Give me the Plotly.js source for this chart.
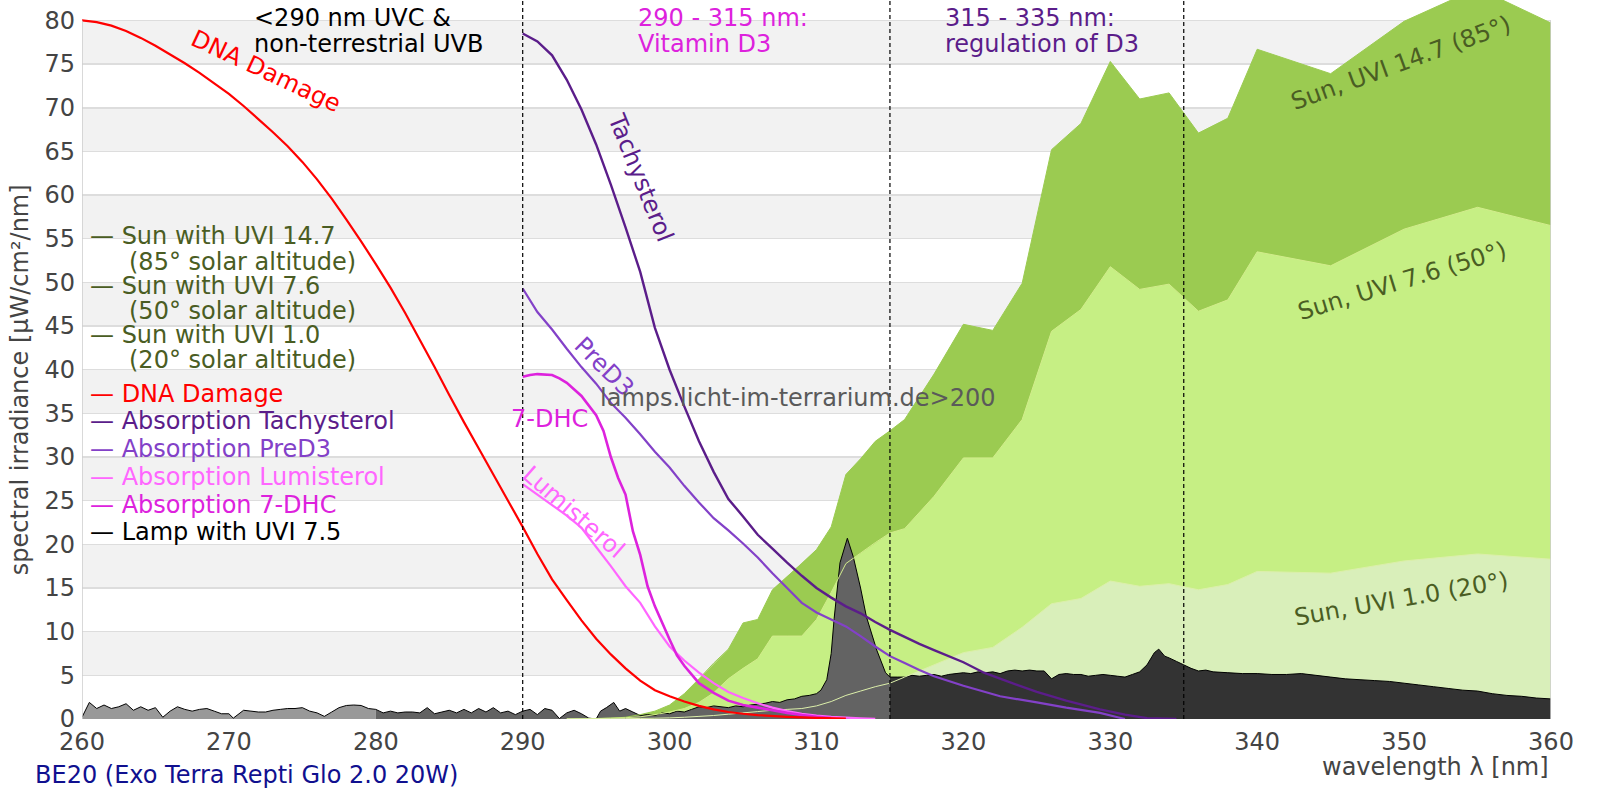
<!DOCTYPE html>
<html><head><meta charset="utf-8">
<script src="https://cdn.plot.ly/plotly-3.0.1.min.js"></script>
<style>html,body{margin:0;padding:0;background:#fff}</style>
</head><body><div id="chart" style="width:1600px;height:800px"></div>
<script>
// ---------- data ----------
const xTicks = [260,270,280,290,300,310,320,330,340,350,360];
const yTicks = [0,5,10,15,20,25,30,35,40,45,50,55,60,65,70,75,80];

const dnaX = [260,261,262,263,264,265,266,267,268,269,270,271,272,273,274,275,276,277,278,279,280,281,282,283,284,285,286,287,288,289,290,291,292,293,294,295,296,297,298,299,300,301,302,303,304,305,306,308,310,312];
const dnaY = [80,79.8,79.4,78.8,78.0,77.1,76.1,75.1,74.0,72.8,71.6,70.2,68.7,67.2,65.6,63.8,61.8,59.6,57.2,54.7,52.1,49.4,46.5,43.4,40.3,37.1,34.0,31.0,28.0,25.0,22.0,18.9,16.0,13.6,11.3,9.2,7.4,5.8,4.4,3.3,2.6,2.0,1.5,1.1,0.8,0.6,0.45,0.25,0.12,0.05];

const tachyX = [290,291,292,293,294,295,296,297,298,299,300,301,302,303,304,305,306,307,308,309,310,311,312,313,314,315,316,317,318,320,321.4,323,325,327,329.3,331,332.5,334.5];
const tachyY = [78.5,77.6,76.0,73.2,69.8,65.8,61.2,56.3,51.2,44.8,40.0,35.8,31.8,28.3,25.2,23.2,21.1,19.5,17.9,16.4,15.0,13.9,12.9,12.1,11.1,10.2,9.4,8.6,7.9,6.5,5.3,4.3,3.1,2.1,1.1,0.5,0.1,0];

const preX = [290,291,292,293,294,295,296,297,298,299,300,301,302,303,304,305,306,307,308,309,310,311,312,313,314,315,316,317,318,320,322.5,325,327,329.3,330.5,331];
const preY = [49.3,46.6,44.6,42.4,40.3,38.4,36.2,34.5,32.6,30.6,28.8,26.7,24.8,23.0,21.6,20.1,18.5,16.7,15.0,13.3,12.2,11.4,10.6,9.5,8.3,7.2,6.4,5.6,4.9,3.8,2.6,1.9,1.3,0.7,0.2,0];

const lumiX = [290,291,292,293,294,295,296,297,298,299,300,301,302,303,304,305,306,307,308,309,310,311,312,313,314];
const lumiY = [26.9,25.7,24.5,23.3,21.9,19.7,17.5,15.2,13.3,10.6,8.3,6.7,5.3,4.1,3.1,2.4,1.8,1.3,0.9,0.6,0.4,0.25,0.15,0.08,0.03];

const dhcX = [290,290.5,291,292,292.5,293,294,295,295.5,296,296.5,297,297.5,298,298.5,299,300,300.5,301,302,303,304,305,306,307,308,309,310,311];
const dhcY = [39.2,39.4,39.5,39.4,39.0,38.5,37.0,34.8,33.0,30.0,27.6,25.7,21.5,18.8,15.2,12.9,9.1,7.3,6.1,4.1,3.0,2.1,1.6,1.3,1.0,0.7,0.45,0.25,0.1];

const sunX   = [293,295,296,297,298,299,300,301,302,303,304,305,306,307,308,309,310,311,312,313,314,315,316,318,320,322,324,326,328,330,332,334,336,338,340,345,350,355,360];
const sun147 = [0,0.05,0.1,0.2,0.5,0.9,1.6,2.9,4.6,6.4,8.0,11.0,11.4,14.8,16.3,17.8,19.4,22,28,29.8,31.8,33.0,34.3,39.5,45.2,44.5,49.9,65.2,68.2,75.3,71.0,71.7,67.1,68.8,76.7,73.9,79.9,83.7,79.7];
const sun76  = [0,0.05,0.1,0.15,0.25,0.5,0.8,1.2,1.9,3.0,4.6,5.8,6.9,9.5,9.5,9.5,11.4,14.5,17.8,19.0,20.2,21.3,21.8,25.5,29.9,29.9,34.3,44.4,46.9,51.8,49.2,49.8,46.7,48.0,53.5,51.9,56.1,58.6,56.5];
const sun10  = [0,0,0.02,0.04,0.06,0.09,0.13,0.2,0.3,0.4,0.55,0.7,0.85,1.0,1.1,1.2,1.5,2.0,2.7,3.2,3.7,4.1,4.8,6.2,7.6,8.2,10.5,13.2,13.8,15.8,15.2,15.5,14.8,15.4,16.9,16.7,18.1,18.9,18.3];

const lampX = [260,260.5,261,261.5,262,262.5,263,263.5,264,264.5,265,265.5,266,266.5,267,267.5,268,268.5,269,269.5,270,270.3,271,271.5,272,272.5,273,273.5,274,274.5,275,275.5,276,276.5,277,277.5,278,278.5,279,279.5,
280,280.5,281,281.5,282,282.5,283,283.5,284,284.5,285,285.5,286,286.5,287,287.5,288,288.5,289,289.5,290,290.5,291,291.5,292,292.5,293,293.5,294,294.5,295,295.3,295.7,296.2,296.6,297,297.5,298,298.5,299,299.5,
300,300.5,301,301.5,302,302.5,303,303.5,304,304.5,305,305.5,306,306.5,307,307.5,308,308.5,309,309.5,310,310.3,310.7,311,311.2,311.6,312.1,312.5,313,313.4,314.1,314.7,315,
315.5,316,316.5,317,317.5,318,318.5,319,319.5,320,320.5,321,321.5,322,322.5,323,323.5,324,324.5,325,325.5,326,326.5,327,327.5,328,328.5,329,329.5,330,330.5,331,331.5,332,332.5,333,333.3,333.7,334,334.5,335,335.5,336,336.5,337,
338,339,340,341,342,343,344,345,346,347,348,349,350,351,352,353,354,355,356,357,358,359,360];
const lampY = [0.2,1.9,1.2,1.6,1.2,1.4,1.75,1.0,1.4,1.0,1.3,0.2,0.9,1.4,1.1,0.9,1.1,1.2,0.9,0.6,0.6,0.1,1.0,0.9,0.8,0.8,1.0,1.1,1.2,1.2,1.3,0.9,0.7,0.3,0.8,1.3,1.55,1.6,1.55,1.2,
1.1,0.7,0.9,0.7,0.8,0.8,0.7,1.3,0.6,0.8,1.0,0.7,1.1,0.7,1.2,0.8,1.3,0.7,0.9,0.5,0.9,1.1,0.5,1.2,1.0,0.05,0.7,1.0,0.6,0.1,0.0,0.9,1.3,1.9,0.9,1.2,0.8,0.4,0.5,0.4,0.7,
0.6,0.9,0.8,1.1,1.4,1.3,1.5,1.4,1.3,1.5,1.4,1.6,1.7,1.8,2.0,1.9,2.2,2.3,2.6,2.7,2.9,3.3,4.5,7.5,11.5,17.9,20.7,18.6,15.0,11.7,7.9,5.3,4.8,
4.8,4.8,5.0,4.9,5.0,5.1,4.9,5.1,5.2,5.3,5.2,5.4,5.3,5.4,5.2,5.5,5.6,5.5,5.6,5.5,5.5,4.6,5.1,5.2,5.1,5.1,4.9,5.0,5.1,5.0,4.9,4.8,5.1,5.4,6.2,7.6,8.0,7.2,7.0,6.6,6.2,5.8,5.5,5.6,5.4,
5.3,5.2,5.2,5.1,5.1,5.2,5.0,4.8,4.6,4.5,4.4,4.3,4.1,3.9,3.7,3.5,3.3,3.2,2.9,2.7,2.6,2.4,2.3];

const regionLines = [290, 315, 335];
const lampSegments = [[260,280],[280,315],[315,360]];

// ---------- styles ----------
const C = {
  dna:'#ff0000', tachy:'#5b1d8a', pre:'#8341c8', lumi:'#ff66ff', dhc:'#dd22dd',
  s147:'#9bcb51', s76:'#c6ef84', s10:'#d9efba', sunText:'#4a5d23',
  lamp:['#999999','#636363','#333333']
};
const FONT = 'DejaVu Sans, Verdana, sans-serif';
const FS = 24;

function seg(a,b){
  const xs=[], ys=[];
  lampX.forEach((x,i)=>{ if(x>=a && x<=b){ xs.push(x); ys.push(lampY[i]); } });
  return {xs, ys};
}

const traces = [];
function fillTrace(x,y,color){
  return {x, y, type:'scatter', mode:'lines', line:{width:0, color}, fill:'tozeroy', fillcolor:color, showlegend:false, hoverinfo:'skip'};
}
function lineTrace(x,y,color,w){
  return {x, y, type:'scatter', mode:'lines', line:{width:w, color, simplify:false}, showlegend:false, hoverinfo:'skip'};
}
traces.push(fillTrace(sunX, sun147, C.s147));
traces.push(fillTrace(sunX, sun76, C.s76));
traces.push(fillTrace(sunX, sun10, C.s10));
lampSegments.forEach((s,i)=>{ const d=seg(s[0],s[1]); traces.push(fillTrace(d.xs, d.ys, C.lamp[i])); });
traces.push(lineTrace(lampX, lampY, '#000000', 1));
traces.push(lineTrace(sunX, sun147, C.s147, 1));
traces.push(lineTrace(sunX, sun76, '#d2ec8c', 1));
traces.push(lineTrace(sunX, sun10, '#dcefaa', 1));
traces.push(lineTrace(tachyX, tachyY, C.tachy, 2.4));
traces.push(lineTrace(preX, preY, C.pre, 2.2));
traces.push(lineTrace(lumiX, lumiY, C.lumi, 2.2));
traces.push(lineTrace(dhcX, dhcY, C.dhc, 2.6));
traces.push(lineTrace(dnaX, dnaY, C.dna, 2.2));

// ---------- shapes ----------
const shapes = [];
for (let v=5; v<80; v+=10){
  shapes.push({type:'rect', xref:'x', yref:'y', x0:260, x1:360, y0:v, y1:v+5, fillcolor:'#f2f2f2', line:{width:0}, layer:'below'});
}
[260,360].forEach(x=>shapes.push({type:'line', xref:'x', yref:'y', x0:x, x1:x, y0:0, y1:80, line:{color:'#cccccc', width:1.5}, layer:'above'}));
regionLines.forEach(x=>shapes.push({type:'line', xref:'x', yref:'paper', x0:x, x1:x, y0:0, y1:1, line:{color:'#000000', width:1.2, dash:'4px,3px'}, layer:'above'}));

// ---------- annotations (positions in reference pixels -> paper) ----------
const P = (dx,dy)=>({x:(dx-80)/1440, y:(705-dy)/705});
const annotations = [];
function ann(text, dx, dy, color, opt){
  const p = P(dx,dy);
  annotations.push(Object.assign({text, x:p.x, y:p.y, xref:'paper', yref:'paper', showarrow:false,
    xanchor:'left', yanchor:'middle', borderpad:0, font:{family:FONT, size:FS, color}}, opt||{}));
}
ann('&lt;290 nm UVC &amp;', 248, 18, '#000000');
ann('non-terrestrial UVB', 248, 43, '#000000');
ann('290 - 315 nm:', 624, 18, C.dhc);
ann('Vitamin D3', 624, 43, C.dhc);
ann('315 - 335 nm:', 925, 18, C.tachy);
ann('regulation of D3', 925, 43, C.tachy);

ann('DNA Damage', 260, 70, C.dna, {xanchor:'center', textangle:25});
ann('Tachysterol', 627, 174, C.tachy, {xanchor:'center', textangle:68});
ann('PreD3', 592, 360, C.pre, {xanchor:'center', textangle:45});
ann('7-DHC', 538, 411, C.dhc, {xanchor:'center'});
ann('Lumisterol', 562, 502, C.lumi, {xanchor:'center', textangle:41});
ann('lamps.licht-im-terrarium.de&gt;200', 782, 390, '#5a5a5a', {xanchor:'center'});

ann('Sun, UVI 14.7 (85°)', 1373, 62, C.sunText, {xanchor:'center', textangle:-20});
ann('Sun, UVI 7.6 (50°)', 1374, 276, C.sunText, {xanchor:'center', textangle:-17});
ann('Sun, UVI 1.0 (20°)', 1373, 587, C.sunText, {xanchor:'center', textangle:-10});

const legendItems = [
  ['— Sun with UVI 14.7', 87, 231, C.sunText],
  ['(85° solar altitude)', 125, 257, C.sunText],
  ['— Sun with UVI 7.6', 87, 280, C.sunText],
  ['(50° solar altitude)', 125, 305, C.sunText],
  ['— Sun with UVI 1.0', 87, 328, C.sunText],
  ['(20° solar altitude)', 125, 353, C.sunText],
  ['— DNA Damage', 87, 386, C.dna],
  ['— Absorption Tachysterol', 87, 413, C.tachy],
  ['— Absorption PreD3', 87, 440, C.pre],
  ['— Absorption Lumisterol', 87, 468, C.lumi],
  ['— Absorption 7-DHC', 87, 495, C.dhc],
  ['— Lamp with UVI 7.5', 87, 522, '#000000']
];
legendItems.forEach(it=>ann(it[0], it[1], it[2], it[3]));

ann('BE20 (Exo Terra Repti Glo 2.0 20W)', 33, 760, '#10108f');
ann('wavelength λ [nm]', 1519, 752, '#444444', {xanchor:'right'});
ann('spectral irradiance [µW/cm²/nm]', 20, 372, '#444444', {xanchor:'center', textangle:-90});

// ---------- layout ----------
const layout = {
  width:1600, height:800,
  margin:{l:82, r:49, t:0, b:81, pad:0},
  paper_bgcolor:'#ffffff', plot_bgcolor:'#ffffff',
  font:{family:FONT, size:FS, color:'#444444'},
  showlegend:false,
  xaxis:{range:[260,360], tickvals:xTicks, ticktext:xTicks.map(String), showgrid:false, zeroline:false, showline:false, ticks:'',
         ticklabelstandoff:6, tickfont:{family:FONT, size:FS, color:'#444444'}, fixedrange:true},
  yaxis:{range:[0,82.34], tickvals:yTicks, ticktext:yTicks.map(String), showgrid:true, gridcolor:'#dddddd', gridwidth:1.5,
         zeroline:false, showline:false, ticks:'', ticklabelstandoff:6,
         tickfont:{family:FONT, size:FS, color:'#444444'}, fixedrange:true},
  shapes, annotations
};
Plotly.newPlot('chart', traces, layout, {displayModeBar:false, staticPlot:true});
</script>
</body></html>
